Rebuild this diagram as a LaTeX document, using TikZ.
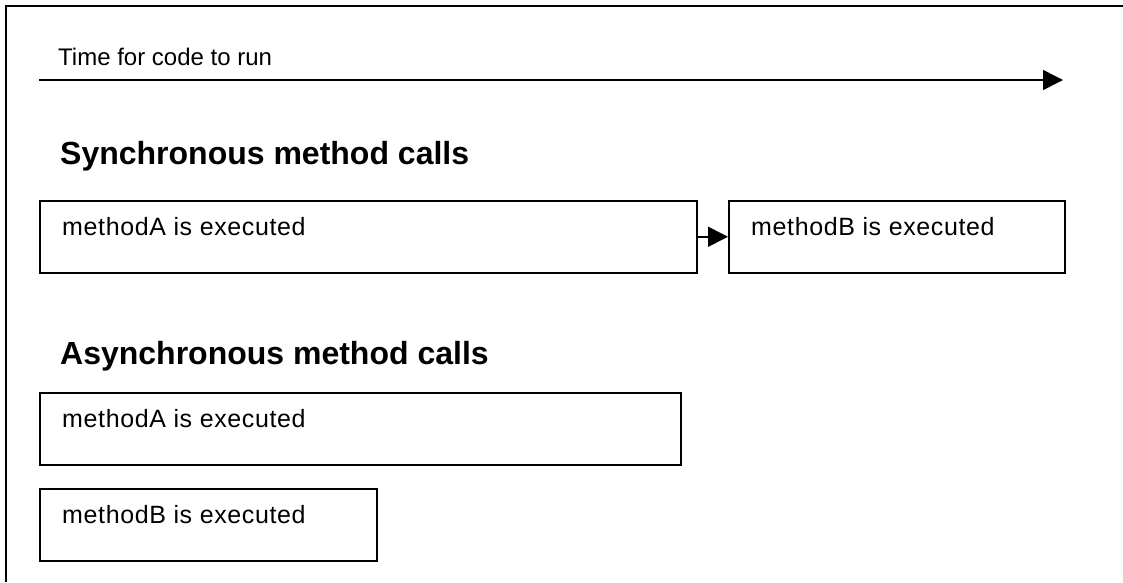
\documentclass[tikz,border=0pt]{standalone}
\usepackage{fontspec}
\setmainfont{Liberation Sans}
\usetikzlibrary{arrows.meta}

\begin{document}
\begin{tikzpicture}[x=1pt, y=-1pt,
    box/.style={draw=black, line width=1.5pt, minimum width=#1, minimum height=72pt,
      inner sep=0pt, anchor=north west},
    boxtext/.style={anchor=base west, inner sep=0pt,
      font=\fontsize{25}{30}\selectfont\addfontfeature{LetterSpace=2.5}},
    heading/.style={anchor=base west, inner sep=0pt, font=\fontsize{32}{38}\selectfont\bfseries},
    tip/.style={line width=1.5pt, -{Triangle[length=20pt, width=20pt]}}]

    \useasboundingbox (0, 0) rectangle (1123, 582);

    % cadre
    \draw[line width=2pt] (1123, 6) -- (6, 6) -- (6, 582);

    % temps
    \coordinate (tstart) at (39, 80);
    \coordinate (tend) at (1063, 80);
    \node[anchor=base west, inner sep=0pt, font=\fontsize{24}{28}\selectfont] (time) at (58, 65) {Time for code to run};
    \draw[tip] (tstart) -- (tend);

    % synchrone
    \node[heading] (synchead) at (60, 164) {Synchronous method calls};
    \node[box=657pt] (syncA) at (39, 200) {};
    \node[box=336pt] (syncB) at (728, 200) {};
    \node[boxtext] (syncAtext) at ([xshift=23pt, yshift=-35pt]syncA.north west) {methodA is executed};
    \node[boxtext] (syncBtext) at ([xshift=23pt, yshift=-35pt]syncB.north west) {methodB is executed};
    \draw[tip] (syncA.east) -- (syncB.west);

    % asynchrone
    \node[heading] (asynchead) at (60, 364) {Asynchronous method calls};
    \node[box=641pt] (asyncA) at (39, 392) {};
    \node[box=337pt] (asyncB) at (39, 488) {};
    \node[boxtext] (asyncAtext) at ([xshift=23pt, yshift=-35pt]asyncA.north west) {methodA is executed};
    \node[boxtext] (asyncBtext) at ([xshift=23pt, yshift=-35pt]asyncB.north west) {methodB is executed};

  \end{tikzpicture}
\end{document}
